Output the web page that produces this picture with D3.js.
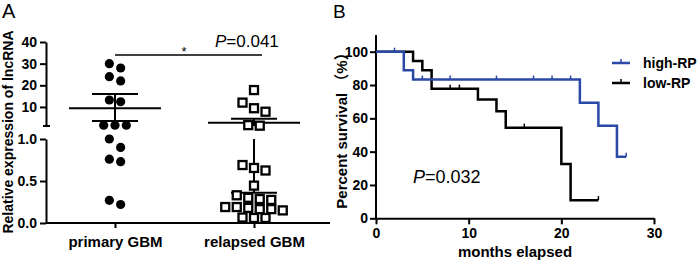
<!DOCTYPE html>
<html>
<head>
<meta charset="utf-8">
<script src="https://cdn.jsdelivr.net/npm/d3@7"></script>
<style>
body { margin: 0; background: #fff; }
svg { display: block; font-family: "Liberation Sans", Arial, "Noto Sans CJK SC", sans-serif; }
</style>
</head>
<body>
<div id="chart"></div>
<script>
// ---- panel A: expression scatter ----
const groups = ["primary GBM", "relapsed GBM"];
const primaryValues = [30, 28, 24, 22, 13.2, 12.4, 1.6, 1.6, 1.6, 1.0, 0.9, 0.76, 0.73, 0.27, 0.22];
const relapsedValues = [17.8, 12, 9.4, 7.8, 1.6, 1.35, 0.69, 0.655, 0.625, 0.445,
    0.33, 0.3, 0.285, 0.275, 0.19, 0.19, 0.18, 0.165, 0.165, 0.15, 0.065, 0.06, 0.06];
const groupMean = [9.4, 2.7];
const groupUpper = [16, 4.6];
const groupLower = [3.5, 0.36];
const upperTicks = [10, 20, 30, 40];
const lowerTicks = [0, 0.5, 1.0];

// ---- panel B: survival curves ----
const timeTicks = [0, 10, 20, 30];
const survTicks = [0, 20, 40, 60, 80, 100];
const highTimes = [0, 3, 4, 22, 24, 26];
const highSurv = [100, 88.9, 83.3, 69.4, 55.6, 37.0];
const highEnd = 27;
const highCensor = [2, 5, 8, 13, 17, 19, 21, 27];
const lowTimes = [0, 4, 5, 6, 11, 13, 14, 20, 21];
const lowSurv = [100, 94.4, 88.9, 77.8, 71.3, 64.2, 54.4, 32.6, 10.9];
const lowEnd = 24;
const lowCensor = [8, 9, 16, 24];

const blue = "#2a48a6";

const svg = d3.select("#chart").append("svg")
    .attr("width", 700)
    .attr("height", 266);

function styleAxis(g) {
    g.selectAll("path, line").attr("stroke", "#000").attr("stroke-width", 2);
    g.selectAll("text")
        .attr("font-family", null)
        .attr("font-size", 14)
        .attr("font-weight", "bold")
        .attr("fill", "#000");
    g.attr("font-family", null).attr("font-size", null);
}

// ================= Panel A =================
const yUp = d3.scaleLinear().domain([1.2, 40]).range([126, 42]);
const yLo = d3.scaleLinear().domain([0, 1]).range([223, 139]);
const yA = v => v > 1.05 ? yUp(v) : yLo(v);
const xA = d3.scalePoint().domain(groups).range([115, 254]);

// upper segment of broken axis
const gUp = svg.append("g")
    .attr("transform", "translate(46,0)")
    .call(d3.axisLeft(yUp).tickValues(upperTicks).tickSize(6).tickSizeOuter(0).tickPadding(3));
styleAxis(gUp);
gUp.append("line")
    .attr("x1", -3).attr("x2", 4)
    .attr("y1", yUp(1.2)).attr("y2", yUp(1.2))
    .attr("stroke", "#000").attr("stroke-width", 2);

// lower segment
const gLo = svg.append("g")
    .attr("transform", "translate(46,0)")
    .call(d3.axisLeft(yLo).tickValues(lowerTicks).tickFormat(d3.format(".1f"))
        .tickSize(6).tickSizeOuter(0).tickPadding(3));
styleAxis(gLo);

// x axis
const gxA = svg.append("g")
    .attr("transform", "translate(0,223)")
    .call(d3.axisBottom(xA).tickSize(5).tickPadding(8));
styleAxis(gxA);
gxA.select(".domain").attr("d", "M46,0H330");
gxA.selectAll("text").attr("font-size", 15);

svg.append("text")
    .attr("transform", "translate(13,132) rotate(-90)")
    .attr("text-anchor", "middle")
    .attr("font-size", 14)
    .attr("font-weight", "bold")
    .text("Relative expression of lncRNA");

// place points in rows (GraphPad-like scatter)
function rowLayout(values, spacing) {
    const pts = values.map(v => ({ v: v, y: yA(v), dx: 0 }));
    const sorted = pts.slice().sort((a, b) => a.y - b.y);
    const rows = [];
    let row = [];
    sorted.forEach(p => {
        if (row.length && p.y - row[0].y >= 9.5) { rows.push(row); row = []; }
        row.push(p);
    });
    if (row.length) rows.push(row);
    rows.forEach(r => r.forEach((p, i) => { p.dx = (i - (r.length - 1) / 2) * spacing; }));
    return pts;
}

const primaryPts = rowLayout(primaryValues, 11.3);
const relapsedPts = rowLayout(relapsedValues, 11.5);

// mean and error bars
groups.forEach((gname, i) => {
    const cx = xA(gname);
    const g = svg.append("g").attr("stroke", "#000").attr("stroke-width", 2);
    g.append("line").attr("x1", cx - 46).attr("x2", cx + 46)
        .attr("y1", yA(groupMean[i])).attr("y2", yA(groupMean[i]));
    g.append("line").attr("x1", cx - 23).attr("x2", cx + 23)
        .attr("y1", yA(groupUpper[i])).attr("y2", yA(groupUpper[i]));
    g.append("line").attr("x1", cx - 23).attr("x2", cx + 23)
        .attr("y1", yA(groupLower[i])).attr("y2", yA(groupLower[i]));
    // vertical bar, skipping the axis break gap
    const top = yA(groupUpper[i]), bot = yA(groupLower[i]);
    if (groupLower[i] > 1.05) {
        g.append("line").attr("x1", cx).attr("x2", cx).attr("y1", top).attr("y2", bot);
    } else {
        g.append("line").attr("x1", cx).attr("x2", cx).attr("y1", top).attr("y2", yUp(1.2));
        g.append("line").attr("x1", cx).attr("x2", cx).attr("y1", yLo(1)).attr("y2", bot);
    }
});

svg.append("g").selectAll("circle")
    .data(primaryPts)
    .join("circle")
    .attr("cx", d => xA(groups[0]) + d.dx)
    .attr("cy", d => d.y)
    .attr("r", 4.6)
    .attr("fill", "#000");

svg.append("g").selectAll("rect")
    .data(relapsedPts)
    .join("rect")
    .attr("x", d => xA(groups[1]) + d.dx - 4)
    .attr("y", d => d.y - 4)
    .attr("width", 8)
    .attr("height", 8)
    .attr("fill", "#fff")
    .attr("stroke", "#000")
    .attr("stroke-width", 2.3);

// significance bracket
svg.append("line")
    .attr("x1", xA(groups[0])).attr("x2", xA(groups[1]) + 8)
    .attr("y1", 55).attr("y2", 55)
    .attr("stroke", "#000").attr("stroke-width", 1.5);
svg.append("text")
    .attr("x", 184).attr("y", 56)
    .attr("text-anchor", "middle")
    .attr("font-size", 13)
    .text("*");
const pA = svg.append("text").attr("x", 215).attr("y", 47).attr("font-size", 17);
pA.append("tspan").attr("font-style", "italic").text("P");
pA.append("tspan").text("=0.041");

svg.append("text").attr("x", 2).attr("y", 18).attr("font-size", 20).text("A");

// ================= Panel B =================
const xB = d3.scaleLinear().domain([0, 30]).range([376, 654]);
const yB = d3.scaleLinear().domain([0, 100]).range([218.3, 51.7]);

const gyB = svg.append("g")
    .attr("transform", `translate(${xB(0)},0)`)
    .call(d3.axisLeft(yB).tickValues(survTicks).tickSize(6).tickSizeOuter(0).tickPadding(2));
styleAxis(gyB);
gyB.select(".domain").attr("d", `M0,${yB(0)}V${yB(110)}`);

const gxB = svg.append("g")
    .attr("transform", `translate(0,${yB(0)})`)
    .call(d3.axisBottom(xB).tickValues(timeTicks).tickSize(6).tickSizeOuter(0).tickPadding(4));
styleAxis(gxB);

svg.append("text")
    .attr("x", 515).attr("y", 257)
    .attr("text-anchor", "middle")
    .attr("font-size", 15)
    .attr("font-weight", "bold")
    .text("months elapsed");

svg.append("text")
    .attr("transform", "translate(347,127) rotate(-90)")
    .attr("text-anchor", "middle")
    .attr("font-size", 15)
    .attr("font-weight", "bold")
    .text("Percent survival \uFF08%\uFF09");

function survAt(times, surv, t) {
    let s = surv[0];
    times.forEach((tt, i) => { if (tt <= t) s = surv[i]; });
    return s;
}

const stepLine = d3.line()
    .x(d => xB(d[0]))
    .y(d => yB(d[1]))
    .curve(d3.curveStepAfter);

function drawCurve(times, surv, end, censor, color) {
    const pts = times.map((t, i) => [t, surv[i]]);
    pts.push([end, surv[surv.length - 1]]);
    svg.append("path")
        .datum(pts)
        .attr("d", stepLine)
        .attr("fill", "none")
        .attr("stroke", color)
        .attr("stroke-width", 2.5);
    svg.append("g").selectAll("line")
        .data(censor)
        .join("line")
        .attr("x1", d => xB(d)).attr("x2", d => xB(d))
        .attr("y1", d => yB(survAt(times, surv, d)))
        .attr("y2", d => yB(survAt(times, surv, d)) - 4)
        .attr("stroke", color)
        .attr("stroke-width", 1.5);
}

drawCurve(lowTimes, lowSurv, lowEnd, lowCensor, "#000");
drawCurve(highTimes, highSurv, highEnd, highCensor, blue);

const pB = svg.append("text").attr("x", 413).attr("y", 183).attr("font-size", 18);
pB.append("tspan").attr("font-style", "italic").text("P");
pB.append("tspan").text("=0.032");

// legend
const legendItems = [["high-RP", blue], ["low-RP", "#000"]];
legendItems.forEach((item, i) => {
    const ly = 63 + i * 20;
    svg.append("line")
        .attr("x1", 612).attr("x2", 630).attr("y1", ly).attr("y2", ly)
        .attr("stroke", item[1]).attr("stroke-width", 2.5);
    svg.append("line")
        .attr("x1", 621).attr("x2", 621).attr("y1", ly).attr("y2", ly - 4)
        .attr("stroke", item[1]).attr("stroke-width", 1.5);
    svg.append("text")
        .attr("x", 643).attr("y", ly + 5)
        .attr("font-size", 14)
        .attr("font-weight", "bold")
        .text(item[0]);
});

svg.append("text").attr("x", 333).attr("y", 18).attr("font-size", 19).text("B");
</script>
</body>
</html>
